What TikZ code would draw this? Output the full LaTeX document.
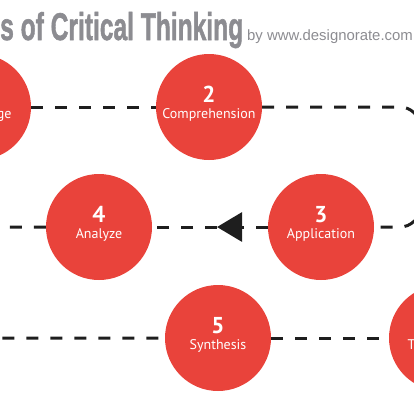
\documentclass[tikz,border=0pt]{standalone}
\usepackage{fontspec}
\setmainfont{PT Sans}
\newfontfamily\headfont[BoldFeatures={FakeBold=1.6}]{Liberation Sans}
\usetikzlibrary{arrows.meta,positioning,calc}
\definecolor{levelred}{HTML}{E9433B}
\definecolor{headgray}{HTML}{8C8C91}
\definecolor{linkdark}{HTML}{1E1E1E}
\tikzset{
  level/.style={
    circle,
    fill=levelred,
    minimum size=106pt,
    inner sep=0pt
  },
  lvlnum/.style={text=white, inner sep=0pt, anchor=base, font=\fontsize{23}{23}\selectfont\bfseries},
  lvlcap/.style={text=white, inner sep=0pt, anchor=base, font=\fontsize{14}{14}\selectfont},
  link/.style={draw=linkdark, line width=3pt, dash pattern=on 12pt off 12pt},
  pointer/.style={-{Triangle[length=25pt, width=29pt]}},
  heading/.style={anchor=base west, inner sep=0pt, text=headgray}
}
\newcommand{\levelnode}[4]{%
  \node[level] (#1) at (#2) {};
  \node[lvlnum] (#1num) at ([yshift=5pt]#1.center) {#3};
  \node[lvlcap] (#1cap) at ([yshift=-11pt]#1.center) {#4};
}

\begin{document}
\begin{tikzpicture}[x=1pt, y=-1pt]
  \useasboundingbox (0,0) rectangle (414,400);
  \clip (0,0) rectangle (414,400);
  \node[heading] (title) at (0,40) {\resizebox{243pt}{28pt}{\headfont\bfseries s of Critical Thinking}};
  \node[heading, font=\headfont\fontsize{14.9}{16}\selectfont] (byline) at (247,40) {by www.designorate.com};
  \levelnode{c1}{-22,107}{1}{Knowledge}
  \levelnode{c2}{209,107}{2}{Comprehension}
  \levelnode{c3}{321,227}{3}{Application}
  \levelnode{c4}{99,227}{4}{Analyze}
  \levelnode{c5}{218,338}{5}{Synthesis}
  \levelnode{c6}{442,338}{6}{Take Action}
  \coordinate (turnR) at (420,107);
  \coordinate (turnL) at (-25,227);
  \coordinate (arrtip) at (217,227);
  \draw[link]                        (c1) -- (c2);
  \draw[link, rounded corners=20pt]  (c2) -- (turnR) |- (c3);
  \draw[link, pointer]               (c3) -- (arrtip);
  \draw[link]                        (arrtip) -- (c4);
  \draw[link, rounded corners=20pt]  (c4) -- (turnL) |- (c5);
  \draw[link]                        (c5) -- (c6);
\end{tikzpicture}
\end{document}
